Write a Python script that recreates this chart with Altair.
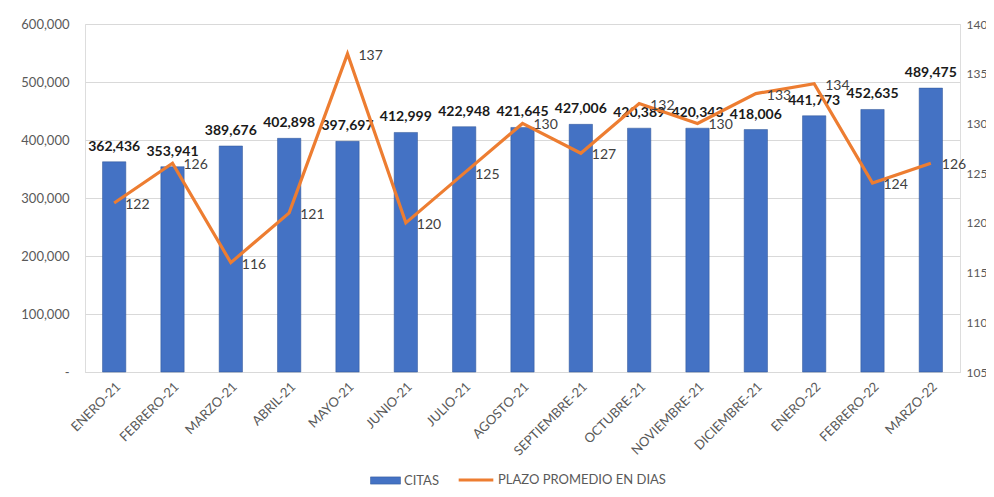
import altair as alt
import pandas as pd

meses = ["ENERO-21", "FEBRERO-21", "MARZO-21", "ABRIL-21", "MAYO-21", "JUNIO-21",
         "JULIO-21", "AGOSTO-21", "SEPTIEMBRE-21", "OCTUBRE-21", "NOVIEMBRE-21",
         "DICIEMBRE-21", "ENERO-22", "FEBRERO-22", "MARZO-22"]
citas = [362436, 353941, 389676, 402898, 397697, 412999, 422948, 421645,
         427006, 420389, 420343, 418006, 441773, 452635, 489475]
plazo = [122, 126, 116, 121, 137, 120, 125, 130, 127, 132, 130, 133, 134, 124, 126]

df = pd.DataFrame({"mes": meses, "citas": citas, "plazo": plazo})

FONT = "Lato"
GREY = "#595959"

x = alt.X("mes:N", sort=meses, title=None,
          scale=alt.Scale(paddingInner=0.6, paddingOuter=0.3),
          axis=alt.Axis(labelAngle=-45, labelAlign="right", labelBaseline="top",
                        labelFontSize=13, labelColor=GREY, labelFont=FONT,
                        ticks=False, domainColor="#D9D9D9", labelPadding=8))

base = alt.Chart(df)

bars = base.mark_bar(color="#4472C4", stroke="#2F5597", strokeWidth=0.5).encode(
    x=x,
    y=alt.Y("citas:Q", title=None,
            scale=alt.Scale(domain=[0, 600000], nice=False),
            axis=alt.Axis(values=[0, 100000, 200000, 300000, 400000, 500000, 600000],
                          labelExpr="datum.value == 0 ? '-' : format(datum.value, ',')",
                          labelFontSize=13, labelColor=GREY, labelFont=FONT,
                          ticks=False, domain=False, gridColor="#D9D9D9",
                          labelPadding=16)),
    fill=alt.Fill("serie:N", title=None,
                  scale=alt.Scale(domain=["CITAS"], range=["#4472C4"]),
                  legend=alt.Legend(orient="none", legendX=285, legendY=441,
                                    symbolType="M-1,-0.24H1V0.24H-1Z",
                                    symbolSize=900, labelFontSize=13, labelLimit=0,
                                    labelColor=GREY, labelFont=FONT, labelOffset=3,
                                    symbolStrokeColor="#2F5597", symbolStrokeWidth=0.5)),
).transform_calculate(serie="'CITAS'")

bar_text = base.mark_text(fontWeight="bold", fontSize=14, font=FONT, color="#1a1a1a",
                          baseline="bottom", dy=-8).encode(
    x=alt.X("mes:N", sort=meses),
    y=alt.Y("citas:Q", scale=alt.Scale(domain=[0, 600000], nice=False)),
    text=alt.Text("citas:Q", format=","),
)

left = alt.layer(bars, bar_text)

line = base.mark_line(strokeWidth=3.2, color="#ED7D31").encode(
    x=alt.X("mes:N", sort=meses),
    y=alt.Y("plazo:Q", title=None,
            scale=alt.Scale(domain=[105, 140], nice=False, zero=False),
            axis=alt.Axis(orient="right", values=[105, 110, 115, 120, 125, 130, 135, 140],
                          labelFontSize=12, labelColor=GREY, labelFont=FONT,
                          ticks=False, domain=False, grid=False, labelPadding=6)),
    stroke=alt.Stroke("serie2:N", title=None,
                      scale=alt.Scale(domain=["PLAZO PROMEDIO EN DIAS"], range=["#ED7D31"]),
                      legend=alt.Legend(orient="none", legendX=372, legendY=437,
                                        symbolType="stroke", symbolSize=1200,
                                        symbolStrokeWidth=3, labelFontSize=13,
                                        labelLimit=0, labelOffset=3,
                                        labelColor=GREY, labelFont=FONT)),
).transform_calculate(serie2="'PLAZO PROMEDIO EN DIAS'")

line_text = base.mark_text(fontSize=14, font=FONT, color="#404040",
                           align="left", baseline="middle", dx=11, dy=2).encode(
    x=alt.X("mes:N", sort=meses),
    y=alt.Y("plazo:Q", scale=alt.Scale(domain=[105, 140], nice=False, zero=False)),
    text=alt.Text("plazo:Q"),
)

right = alt.layer(line, line_text)

chart = alt.layer(left, right).resolve_scale(
    y="independent", fill="independent", stroke="independent"
).resolve_legend(fill="independent", stroke="independent").properties(
    width=875, height=348,
    autosize=alt.AutoSizeParams(type="none"),
    padding={"left": 77, "top": 16, "right": 26, "bottom": 117},
).configure_view(stroke=None).configure(background="white")

chart.save("out.html", embed_options={"renderer": "svg", "actions": False})
